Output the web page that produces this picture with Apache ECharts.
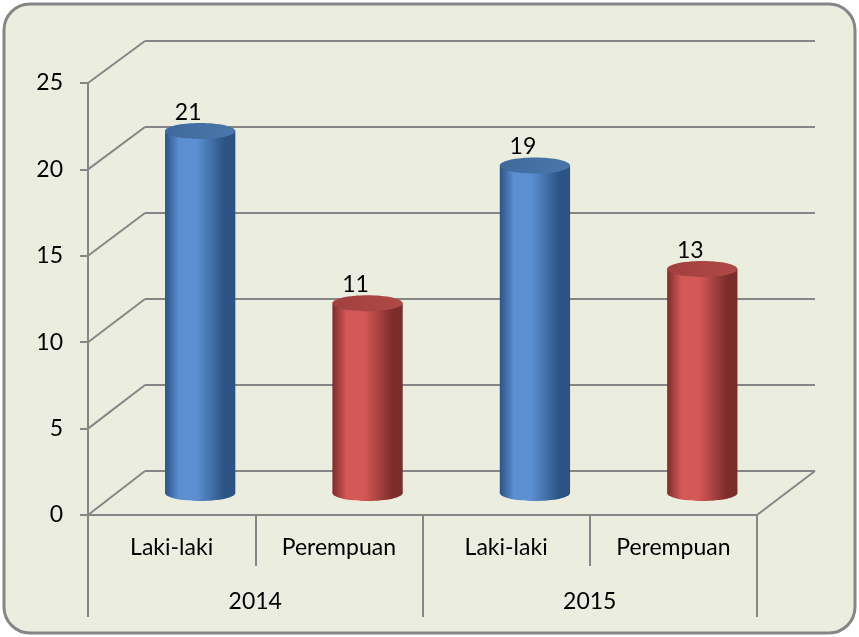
<!DOCTYPE html>
<html>
<head>
<meta charset="utf-8">
<script src="https://cdn.jsdelivr.net/npm/echarts@6/dist/echarts.min.js"></script>
<style>
  html, body { margin: 0; padding: 0; background: #fff; }
  #main { width: 859px; height: 637px; }
</style>
</head>
<body>
<div id="main"></div>
<script>
// data
var categories = ['Laki-laki', 'Perempuan', 'Laki-laki', 'Perempuan'];
var years = ['2014', '2015'];
var values = [21, 11, 19, 13];
var yTicks = [0, 5, 10, 15, 20, 25];

// 3d look: back wall, front plane, and the middle plane where the cylinders stand
var back = { left: 145, right: 44, top: 41, bottom: 166 };
var front = { left: 88, right: 102, top: 83, bottom: 122 };
var mid = { left: 116.5, right: 73, top: 62, bottom: 144 };

var lineCol = '#868686';
var font = 'Lato, "Open Sans", sans-serif';
var fs = 23;

var palettes = [
    { side: '#2b5384', mid: '#5b8fd1', top: '#40699b', topLight: '#4a77ab' },
    { side: '#7c2d2b', mid: '#d45856', top: '#a1403e', topLight: '#b04947' }
];

function cylinder(params, api) {
    var i = api.value(0);
    var top = api.coord([i, api.value(1)]);
    var base = api.coord([i, 0]);
    var w = api.size([1, 0])[0] * 0.42;
    var ry = 8;
    var p = palettes[i % 2];
    var x = top[0] - w / 2;
    var body = new echarts.graphic.LinearGradient(0, 0, 1, 0, [
        { offset: 0, color: p.side },
        { offset: 0.2, color: p.mid },
        { offset: 0.45, color: p.mid },
        { offset: 0.85, color: p.side },
        { offset: 1, color: p.side }
    ]);
    return {
        type: 'group',
        children: [
            { type: 'ellipse', shape: { cx: base[0], cy: base[1], rx: w / 2, ry: ry }, style: { fill: body } },
            { type: 'rect', shape: { x: x, y: top[1], width: w, height: base[1] - top[1] }, style: { fill: body } },
            { type: 'ellipse', shape: { cx: top[0], cy: top[1], rx: w / 2, ry: ry },
              style: { fill: new echarts.graphic.LinearGradient(0, 0, 1, 1, [
                  { offset: 0, color: p.top }, { offset: 1, color: p.topLight }]) } },
            { type: 'text', x: top[0] - 12, y: top[1] - ry + 1,
              style: { text: String(api.value(1)), fill: '#000', font: fs + 'px ' + font,
                       align: 'center', verticalAlign: 'bottom' } }
        ]
    };
}

var chart = echarts.init(document.getElementById('main'));

var hidden = { show: false };
chart.setOption({
    animation: false,
    grid: [back, front, mid, front],
    xAxis: [
        { gridIndex: 0, type: 'category', data: categories, axisLine: hidden, axisTick: hidden, axisLabel: hidden },
        { gridIndex: 1, type: 'category', data: categories,
          axisLine: { show: true, lineStyle: { color: lineCol, width: 2 } },
          axisTick: { show: true, length: 51, lineStyle: { color: lineCol, width: 2 } },
          axisLabel: { color: '#000', fontSize: fs, fontFamily: font, margin: 21 } },
        { gridIndex: 2, type: 'category', data: categories, show: false },
        { gridIndex: 3, type: 'category', data: years,
          axisLine: { show: true, lineStyle: { color: lineCol, width: 2 } },
          axisTick: { show: true, length: 102, lineStyle: { color: lineCol, width: 2 } },
          axisLabel: { color: '#000', fontSize: fs, fontFamily: font, margin: 75 } }
    ],
    yAxis: [
        { gridIndex: 0, type: 'value', min: 0, max: 25, interval: 5,
          axisLine: hidden, axisTick: hidden, axisLabel: hidden,
          splitLine: { show: true, lineStyle: { color: lineCol, width: 2 } } },
        { gridIndex: 1, type: 'value', min: 0, max: 25, interval: 5,
          axisLine: { show: true, lineStyle: { color: lineCol, width: 2 } },
          axisTick: { show: true, length: 8, lineStyle: { color: lineCol, width: 2 } },
          axisLabel: { color: '#000', fontSize: fs, fontFamily: font, margin: 25 },
          splitLine: hidden },
        { gridIndex: 2, type: 'value', min: 0, max: 25, interval: 5, show: false },
        { gridIndex: 3, type: 'value', min: 0, max: 25, show: false }
    ],
    series: [{
        type: 'custom',
        xAxisIndex: 2,
        yAxisIndex: 2,
        z: 5,
        renderItem: cylinder,
        data: values.map(function (v, i) { return [i, v]; })
    }]
});

// frame + perspective lines joining the front axis to the back wall
var W = chart.getWidth(), H = chart.getHeight();
var g = [{
    type: 'rect', z: -10,
    shape: { x: 4, y: 4, width: W - 8, height: H - 8, r: 26 },
    style: { fill: '#ebeedf', stroke: lineCol, lineWidth: 3 }
}];
var ls = { stroke: lineCol, lineWidth: 2 };
yTicks.forEach(function (t) {
    var yf = chart.convertToPixel({ yAxisIndex: 1 }, t);
    var yb = chart.convertToPixel({ yAxisIndex: 0 }, t);
    g.push({ type: 'line', z: 1, shape: { x1: front.left, y1: yf, x2: back.left, y2: yb }, style: ls });
});
var yf0 = chart.convertToPixel({ yAxisIndex: 1 }, 0);
var yb0 = chart.convertToPixel({ yAxisIndex: 0 }, 0);
g.push({ type: 'line', z: 1, shape: { x1: W - front.right, y1: yf0, x2: W - back.right, y2: yb0 }, style: ls });
chart.setOption({ graphic: g });
</script>
</body>
</html>
